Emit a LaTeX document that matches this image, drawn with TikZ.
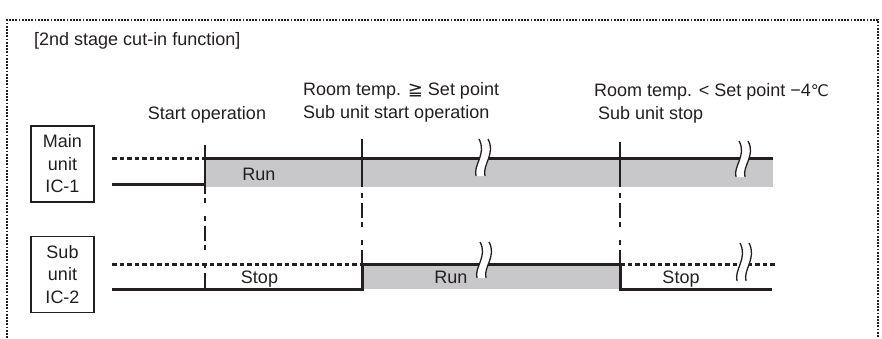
\documentclass[tikz,border=0pt]{standalone}
\usepackage{fontspec}
\setmainfont{Liberation Sans}
\newfontfamily\symfont{DejaVu Sans}
\definecolor{ink}{RGB}{35,31,32}
\definecolor{rungray}{RGB}{200,200,202}
\newcommand{\brkmark}[3]{%
  \fill[white] (#1,#2) .. controls (#1+8,#2+0.4*#3-0.4*#2) and (#1-6,#2+0.7*#3-0.7*#2) .. (#1-3,#3)
     -- (#1+6,#3) .. controls (#1+3,#2+0.7*#3-0.7*#2) and (#1+17,#2+0.4*#3-0.4*#2) .. (#1+9,#2) -- cycle;
  \draw[brk] (#1,#2) .. controls (#1+8,#2+0.4*#3-0.4*#2) and (#1-6,#2+0.7*#3-0.7*#2) .. (#1-3,#3);
  \draw[brk] (#1+9,#2) .. controls (#1+17,#2+0.4*#3-0.4*#2) and (#1+3,#2+0.7*#3-0.7*#2) .. (#1+6,#3);}
\begin{document}
\begin{tikzpicture}[x=1bp,y=-1bp,
  every node/.style={font=\fontsize{18bp}{22.5bp}\selectfont, text=ink, inner sep=0pt},
  lbl/.style={anchor=base west},
  mid/.style={anchor=base},
  unitbox/.style={draw=ink, line width=1.4bp, minimum width=63bp, minimum height=76bp, align=center},
  frame/.style={draw=ink, line width=1.8bp, dash pattern=on 1.8bp off 1.4bp},
  level/.style={draw=ink, line width=3bp},
  dotlevel/.style={draw=ink, line width=3bp, dash pattern=on 4.5bp off 3bp},
  marker/.style={draw=ink, line width=2.8bp},
  dashdot/.style={draw=ink, line width=2.7bp, dash pattern=on 5bp off 5bp on 15bp off 4bp on 5bp off 13bp},
  brk/.style={draw=ink, line width=1.3bp}]
\useasboundingbox (0,0) rectangle (882,338);
% frame
\draw[frame] (7,338) -- (7,20) -- (878,20) -- (878,338);
% title and labels
\node[lbl] (title) at (34,45) {[2nd stage cut-in function]};
\node[mid] (start) at (207,119) {Start operation};
\node[lbl] (rt1) at (303,95) {Room temp. {\symfont ≧} Set point};
\node[lbl] (sub1) at (303,118) {Sub unit start operation};
\node[lbl] (rt2) at (594,96) {Room temp. < Set point −4{\symfont\fontsize{16bp}{18bp}\selectfont ℃}};
\node[lbl] (sub2) at (598,119) {Sub unit stop};
% unit boxes
\node[unitbox] (main) at (62.5,164) {Main\\unit\\IC-1};
\node[unitbox] (sub) at (62.5,274.5) {Sub\\unit\\IC-2};
% main unit timeline
\fill[rungray] (205,158) rectangle (773,187);
\draw[dotlevel] (112,158) -- (205,158);
\draw[level] (112,184) -- (205,184);
\draw[level] (205,158) -- (773,158);
\draw[marker] (205,145) -- (205,194);
\draw[marker] (362,139) -- (362,187);
\draw[marker] (620,142) -- (620,187);
\brkmark{479}{139}{176}
\brkmark{739}{141}{177}
% dash-dot links
\draw[dashdot, dash phase=24bp] (205,193) -- (205,289);
\draw[dashdot, dash phase=41bp] (362,187) -- (362,264);
\draw[dashdot, dash phase=41bp] (620,187) -- (620,264);
% sub unit timeline
\fill[rungray] (362,264) rectangle (620,289);
\draw[dotlevel] (112,264) -- (362,264);
\draw[level] (112,289) -- (362,289) -- (362,264);
\draw[level] (362,264) -- (620,264) -- (620,289) -- (772,289);
\draw[dotlevel] (620,264) -- (777,264);
\brkmark{480}{242}{278}
\brkmark{740}{243}{281}
% state labels
\node[mid] (run1) at (259,180) {Run};
\node[mid] (stop1) at (259.5,283) {Stop};
\node[mid] (run2) at (451,283) {Run};
\node[mid] (stop2) at (681,283) {Stop};
\end{tikzpicture}
\end{document}
